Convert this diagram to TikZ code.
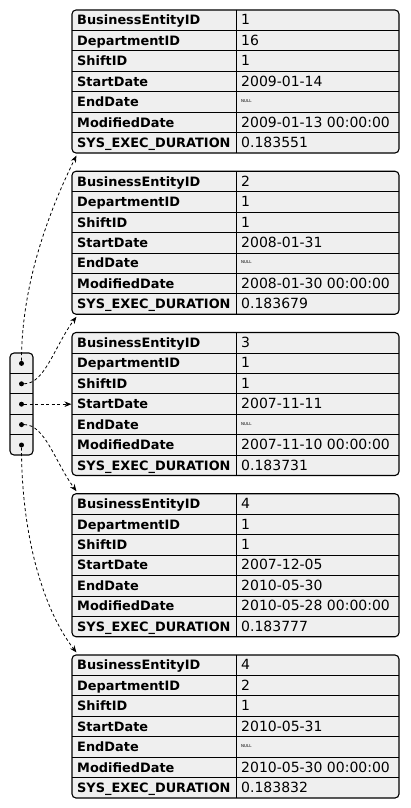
\documentclass[tikz,border=0pt]{standalone}
\usepackage{fontspec}
\setmainfont{DejaVu Sans}
\usetikzlibrary{arrows.meta,calc}
\definecolor{rowfill}{HTML}{EFEFEF}
\newcommand\nulmark{\raisebox{4pt}{\fontsize{4}{5}\selectfont NULL}}
\begin{document}
\begin{tikzpicture}[x=1pt,y=-1pt,
  tablebox/.style={draw=black, line width=1.1pt, fill=rowfill, rounded corners=4pt,
    minimum width=327pt, minimum height=143pt, inner sep=0pt},
  arraybox/.style={draw=black, line width=1.1pt, fill=rowfill, rounded corners=4pt,
    minimum width=23pt, minimum height=102pt, inner sep=0pt},
  keytext/.style={anchor=base west, inner sep=0pt, font=\fontsize{12.9}{14}\selectfont\bfseries},
  valtext/.style={anchor=base west, inner sep=0pt, font=\fontsize{14}{16}\selectfont},
  rule/.style={line width=0.8pt},
  link/.style={dash pattern=on 3pt off 2.5pt, line width=0.8pt,
    -{Stealth[length=7pt,width=5.5pt]}},
  dot/.style={circle, fill=black, inner sep=0pt, minimum size=5pt},
]
\useasboundingbox (0,0) rectangle (410,808);

% one record box per row of the result set
\foreach \k/\va/\vb/\vc/\vd/\ve/\vf/\vg in {
  1/1/16/1/2009-01-14/\nulmark/2009-01-13 00:00:00/0.183551,
  2/2/1/1/2008-01-31/\nulmark/2008-01-30 00:00:00/0.183679,
  3/3/1/1/2007-11-11/\nulmark/2007-11-10 00:00:00/0.183731,
  4/4/1/1/2007-12-05/2010-05-30/2010-05-28 00:00:00/0.183777,
  5/4/2/1/2010-05-31/\nulmark/2010-05-30 00:00:00/0.183832}{
  \pgfmathsetmacro\tp{10+161.25*(\k-1)}
  \node[tablebox] (t\k) at (235.5,\tp+71.5) {};
  \foreach \i in {1,...,6}
    \draw[rule] (72,\tp+20.43*\i) -- (399,\tp+20.43*\i);
  \draw[rule] (236,\tp) -- (236,\tp+143);
  \foreach \lab [count=\i] in {BusinessEntityID,DepartmentID,ShiftID,StartDate,EndDate,ModifiedDate,SYS\_EXEC\_DURATION}
    \node[keytext] (t\k-k\i) at (77,\tp+20.43*\i-5.5) {\lab};
  \foreach \val [count=\i] in {\va,\vb,\vc,\vd,\ve,\vf,\vg}
    \node[valtext] (t\k-v\i) at (241,\tp+20.43*\i-5.5) {\val};
}

% the array of row pointers
\node[arraybox] (arr) at (21.5,404) {};
\foreach \i in {1,...,4}
  \draw[rule] (10,353+20.4*\i) -- (33,353+20.4*\i);
\foreach \i in {1,...,5}
  \node[dot] (d\i) at (21.5,343+20.4*\i) {};

% pointers from each slot to its record
\draw[link] (d1.north) .. controls (21.5,280) and (52,205) .. ($(t1.south west)+(5,2)$);
\draw[link] (d2.east) .. controls (45,383.8) and (55,345) .. ($(t2.south west)+(5,2)$);
\draw[link] (d3.east) -- (t3.west |- d3);
\draw[link] (d4.east) .. controls (45,424.6) and (55,462) .. ($(t4.north west)+(5,-2)$);
\draw[link] (d5.south) .. controls (21.5,540) and (45,612) .. ($(t5.north west)+(5,-2)$);
\end{tikzpicture}
\end{document}
